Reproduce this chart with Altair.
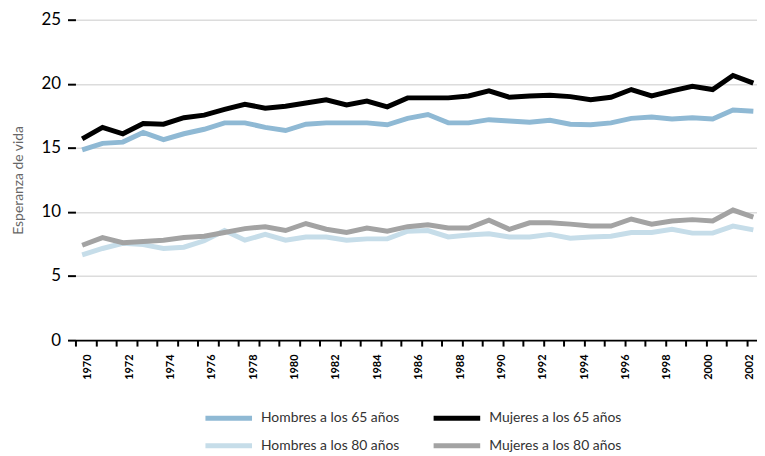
import altair as alt
import pandas as pd

years = list(range(1970, 2004))
hombres_65 = [14.85, 15.35, 15.45, 16.2, 15.65, 16.1, 16.45, 16.95, 16.95, 16.6,
              16.35, 16.85, 16.95, 16.95, 16.95, 16.8, 17.3, 17.6, 16.95, 16.95,
              17.2, 17.1, 17.0, 17.15, 16.85, 16.8, 16.95, 17.3, 17.4, 17.25,
              17.35, 17.25, 17.95, 17.85]
mujeres_65 = [15.7, 16.6, 16.1, 16.9, 16.85, 17.35, 17.55, 18.0, 18.4, 18.1,
              18.25, 18.5, 18.75, 18.35, 18.65, 18.2, 18.9, 18.9, 18.9, 19.05,
              19.45, 18.95, 19.05, 19.1, 19.0, 18.75, 18.95, 19.55, 19.05, 19.45,
              19.8, 19.55, 20.65, 20.05]
hombres_80 = [6.65, 7.15, 7.55, 7.45, 7.15, 7.25, 7.75, 8.55, 7.8, 8.25,
              7.8, 8.05, 8.05, 7.8, 7.9, 7.9, 8.5, 8.55, 8.05, 8.2,
              8.3, 8.05, 8.05, 8.25, 7.95, 8.05, 8.1, 8.4, 8.4, 8.65,
              8.35, 8.35, 8.9, 8.6]
mujeres_80 = [7.4, 8.0, 7.6, 7.7, 7.8, 8.0, 8.1, 8.4, 8.7, 8.85,
              8.55, 9.1, 8.65, 8.4, 8.75, 8.5, 8.85, 9.0, 8.75, 8.75,
              9.35, 8.65, 9.15, 9.15, 9.05, 8.9, 8.9, 9.45, 9.05, 9.3,
              9.4, 9.3, 10.15, 9.6]

series_names = ["Hombres a los 65 años", "Mujeres a los 65 años",
                "Hombres a los 80 años", "Mujeres a los 80 años"]
series_colors = ["#8fb9d4", "#000000", "#c6dde9", "#a3a3a3"]
series_values = [hombres_65, mujeres_65, hombres_80, mujeres_80]

label_years = list(range(1970, 2003, 2))
y_ticks = [0, 5, 10, 15, 20, 25]

rows = []
for name, vals in zip(series_names, series_values):
    for yr, v in zip(years, vals):
        rows.append({"year": yr, "value": v, "serie": name})
df = pd.DataFrame(rows)
df_labels = pd.DataFrame({"label_year": label_years})

FONT = "Lato, Liberation Sans, sans-serif"

lines = alt.Chart(df).mark_line(strokeWidth=5, strokeCap="butt").encode(
    x=alt.X("year:Q",
            scale=alt.Scale(domain=[1969.67, 2003.18], nice=False, zero=False),
            axis=alt.Axis(values=years, labels=False, ticks=True, tickSize=6,
                          tickWidth=2, tickColor="black", tickOffset=-6.7,
                          domain=True, domainColor="black", domainWidth=2,
                          grid=False, title=None)),
    y=alt.Y("value:Q",
            scale=alt.Scale(domain=[0, 25], nice=False),
            axis=alt.Axis(values=y_ticks, domain=False, ticks=True, tickSize=8,
                          tickWidth=2, tickColor="black", labelFont=FONT,
                          labelFontSize=17, labelColor="black", labelPadding=7,
                          grid=True, gridColor="#dcdcdc", gridWidth=1.5,
                          title="Esperanza de vida", titleFont=FONT,
                          titleFontSize=14, titleFontWeight="normal",
                          titleColor="#666666", titlePadding=16)),
    color=alt.Color("serie:N",
                    scale=alt.Scale(domain=series_names, range=series_colors),
                    legend=alt.Legend(orient="none", legendX=144, legendY=391,
                                      columns=2, direction="horizontal",
                                      symbolType="M-3,0H3",
                                      symbolSize=245, symbolStrokeWidth=5,
                                      labelFont=FONT, labelFontSize=14,
                                      labelColor="#333333", labelOffset=22,
                                      labelLimit=0,
                                      columnPadding=24, rowPadding=7,
                                      title=None)),
)

labels = alt.Chart(df_labels).mark_point(opacity=0).encode(
    x=alt.X("label_year:Q",
            scale=alt.Scale(domain=[1969.41, 2002.35], nice=False, zero=False),
            axis=alt.Axis(values=label_years, orient="bottom", labelAngle=-90,
                          format="d",
                          labelFont=FONT, labelFontSize=11,
                          labelFontWeight="bold", labelColor="black",
                          labelPadding=14, ticks=False, domain=False,
                          grid=False, title=None, labelFlush=False,
                          labelOverlap=False)),
    y=alt.value(0),
)

chart = alt.layer(lines, labels).resolve_scale(x="independent").properties(
    width=687, height=323,
    autosize=alt.AutoSizeParams(type="none"),
    padding={"left": 68, "top": 10, "right": 0, "bottom": 114},
).configure_view(stroke=None)

chart.save("out.html", embed_options={"renderer": "svg", "actions": False})
